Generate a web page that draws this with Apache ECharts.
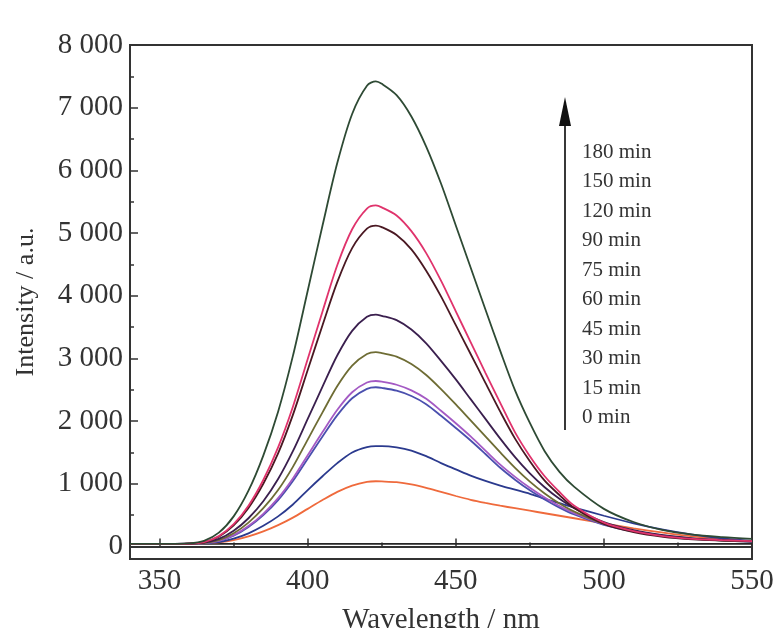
<!DOCTYPE html>
<html>
<head>
<meta charset="utf-8">
<script src="https://cdn.jsdelivr.net/npm/echarts@6/dist/echarts.min.js"></script>
<style>html,body{margin:0;padding:0;background:#fff}#c{width:775px;height:628px}</style>
</head>
<body>
<div id="c"></div>
<script>
// Wavelengths (nm)
var wavelengths = [340,350,360,365,370,375,380,385,390,395,400,405,410,415,420,423,425,430,435,440,445,450,455,460,465,470,475,480,485,490,500,510,520,530,540,550];
// Series names (legend order, bottom to top)
var seriesNames = ['0 min','15 min','30 min','45 min','60 min','75 min','90 min','120 min','150 min','180 min'];
// Intensities (a.u.)
var s0   = [40,40,40,40,40,40,40,40,40,40,40,40,40,40,40,40,40,40,40,40,40,40,40,40,40,40,40,40,40,40,40,40,40,40,40,40];
var s15  = [40,40,42,48,65,100,160,240,340,460,600,740,870,970,1030,1040,1038,1025,990,935,870,805,745,695,650,610,570,530,490,450,370,290,220,160,115,80];
var s30  = [40,40,42,50,70,125,210,330,480,670,900,1120,1330,1500,1585,1600,1600,1580,1530,1440,1330,1230,1130,1045,970,905,840,760,690,620,490,370,270,190,130,90];
var s45  = [40,40,45,55,85,170,310,500,740,1045,1400,1755,2095,2365,2515,2540,2530,2485,2400,2270,2085,1890,1690,1475,1255,1065,895,750,620,510,345,240,170,120,95,75];
var s60  = [40,40,45,55,90,180,325,520,770,1085,1455,1825,2180,2460,2615,2640,2630,2580,2490,2355,2165,1965,1755,1530,1305,1110,935,780,645,530,355,250,175,125,100,80];
var s75  = [40,40,45,55,100,210,380,610,900,1270,1705,2140,2560,2885,3070,3100,3085,3030,2910,2735,2510,2265,2010,1755,1500,1255,1035,845,685,555,360,245,170,125,95,80];
var s90  = [40,40,45,60,120,250,450,720,1075,1520,2035,2550,3050,3440,3665,3700,3680,3610,3460,3240,2960,2665,2350,2035,1720,1425,1165,945,760,610,390,260,180,130,100,80];
var s120 = [40,40,45,65,155,335,615,1000,1485,2100,2815,3530,4220,4760,5070,5120,5095,4970,4740,4400,3990,3530,3070,2610,2150,1720,1360,1050,820,615,360,230,155,115,95,80];
var s150 = [40,40,45,70,165,355,650,1060,1580,2230,2990,3750,4490,5060,5390,5440,5410,5280,5030,4680,4240,3750,3260,2770,2290,1820,1440,1120,870,650,380,245,165,120,100,85];
var s180 = [40,40,50,90,220,480,890,1450,2150,3040,4080,5120,6120,6900,7350,7420,7380,7200,6860,6380,5790,5120,4450,3780,3120,2490,1970,1520,1190,950,600,390,260,190,150,120];
// Axis tick labels
var xTicks = [350,400,450,500,550];
var xMinorTicks = [375,425,475,525];
var yTicks = [0,1000,2000,3000,4000,5000,6000,7000,8000];
var yMinorTicks = [500,1500,2500,3500,4500,5500,6500,7500];

var colors = ['#262626','#ef6a3c','#2b3a8e','#4a4fae','#a45ac4','#6e6c34','#3a1f4e','#4a1822','#e0336c','#2e4a34'];
var allData = [s0,s15,s30,s45,s60,s75,s90,s120,s150,s180];

var chart = echarts.init(document.getElementById('c'), null, {renderer:'canvas'});
var serif = '"Liberation Serif","DejaVu Serif",serif';
var series = allData.map(function(arr, k){
  return {
    name: seriesNames[k], type:'line', xAxisIndex:0, yAxisIndex:0,
    data: wavelengths.map(function(w,i){return [w, arr[i]];}),
    showSymbol:false, smooth:0.3,
    lineStyle:{color:colors[k], width:1.8},
    itemStyle:{color:colors[k]}, z: 2
  };
});
function fmt(v){ if(v===0) return '0'; var t=Math.floor(v/1000); return t+' 000'; }

var labelGraphics = seriesNames.slice().reverse().map(function(n,i){
  return {type:'text', x:582, y:152+i*29.5, style:{text:n, font:'21px '+serif, fill:'#333', verticalAlign:'middle', align:'left'}};
});

chart.setOption({
  animation:false,
  backgroundColor:'#fff',
  grid:{left:130,right:23,top:45,bottom:69,show:true,borderColor:'#333',borderWidth:2,backgroundColor:'transparent',containLabel:false,outerBoundsMode:'none'},
  xAxis:[{
    type:'value', min:340, max:550, position:'bottom',
    name:'Wavelength / nm', nameLocation:'middle', nameGap:47,
    nameTextStyle:{fontFamily:serif, fontSize:29, color:'#333'},
    axisLine:{show:true, lineStyle:{color:'#333', width:2}},
    axisTick:{show:true, inside:true, length:8, customValues:xTicks, lineStyle:{color:'#333', width:1.5}},
    axisLabel:{customValues:xTicks, fontFamily:serif, fontSize:29, color:'#333', margin:8},
    splitLine:{show:false}
  },{
    type:'value', min:340, max:550, position:'bottom',
    axisLine:{show:false},
    axisTick:{show:true, inside:true, length:4, customValues:xMinorTicks, lineStyle:{color:'#333', width:1.5}},
    axisLabel:{show:false}, splitLine:{show:false}
  }],
  yAxis:[{
    type:'value', min:-200, max:8000, position:'left',
    name:'Intensity / a.u.', nameLocation:'middle', nameGap:91,
    nameTextStyle:{fontFamily:serif, fontSize:26, color:'#333'},
    axisLine:{show:true, lineStyle:{color:'#333', width:2}},
    axisTick:{show:true, inside:true, length:8, customValues:yTicks, lineStyle:{color:'#333', width:1.5}},
    axisLabel:{customValues:yTicks, formatter:fmt, fontFamily:serif, fontSize:29, color:'#333', margin:7},
    splitLine:{show:false}
  },{
    type:'value', min:-200, max:8000, position:'left',
    axisLine:{show:false},
    axisTick:{show:true, inside:true, length:4, customValues:yMinorTicks, lineStyle:{color:'#333', width:1.5}},
    axisLabel:{show:false}, splitLine:{show:false}
  }],
  series: series,
  graphic: [
    {type:'line', shape:{x1:565, y1:120, x2:565, y2:430}, style:{stroke:'#222', lineWidth:1.8}},
    {type:'polygon', shape:{points:[[565,97],[559,126],[571,126]]}, style:{fill:'#111'}}
  ].concat(labelGraphics)
});
</script>
</body>
</html>
